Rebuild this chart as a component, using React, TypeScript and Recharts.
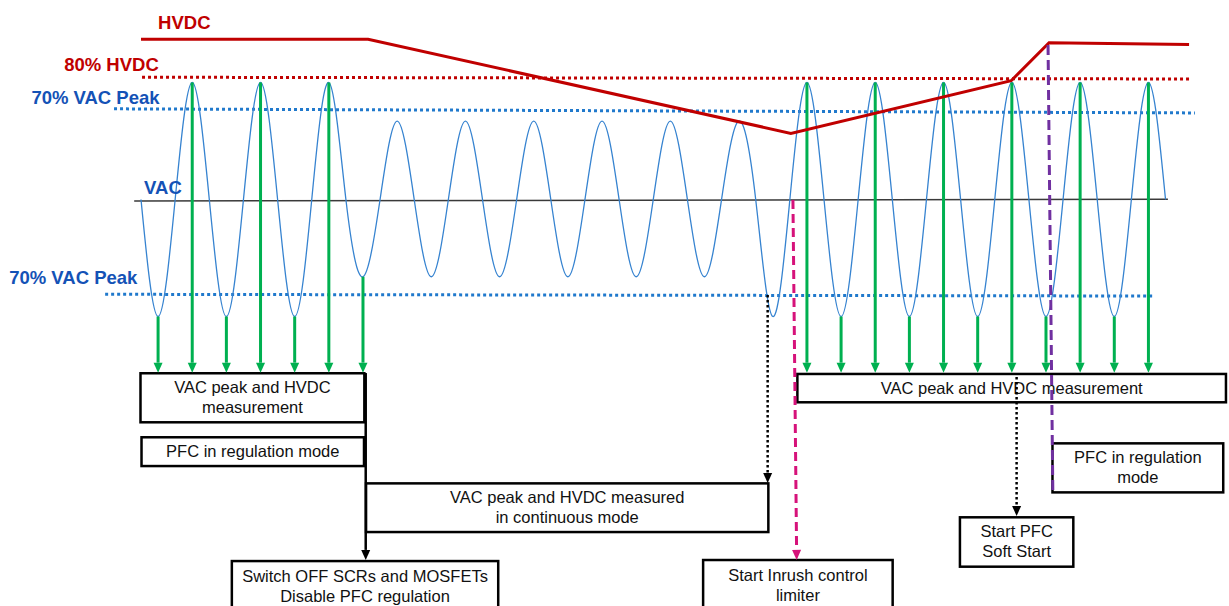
import React from 'react';
import { ComposedChart, Line, XAxis, YAxis, ReferenceLine, ReferenceArea, ReferenceDot } from 'recharts';

// x = time in ms (50 Hz mains, a zero crossing every 10 ms)
// y = voltage in % of the nominal VAC peak
const zeroCrossings = [
  0, 10, 20, 30, 40, 50, 60, 70, 80, 90, 100, 110, 120, 130, 140, 150,
  160, 170, 180, 190, 200, 210, 220, 230, 240, 250, 260, 270, 280, 290, 300,
];
const extremaTimes = [
  5, 15, 25, 35, 45, 55, 65, 75, 85, 95, 105, 115, 125, 135, 145,
  155, 165, 175, 185, 195, 205, 215, 225, 235, 245, 255, 265, 275, 285, 295,
];
const extremaValues = [
  -100, 100, -100, 100, -100, 100,
  -66, 67, -66, 67, -66, 67, -66, 67, -66, 67, -66, 67,
  -100, 100, -100, 100, -100, 100, -100, 100, -100, 100, -100, 100,
];
// half cycles whose peak is sampled (green arrows)
const measuredTimes = [5, 15, 25, 35, 45, 55, 65, 195, 205, 215, 225, 235, 245, 255, 265, 275, 285, 295];
const measureLevel = -148;

const hvdcTimes = [0, 66.5, 190.3, 254.8, 265.9, 306.9];
const hvdcValues = [137, 137, 56.5, 101.5, 134, 132.5];

const waveData = [
  ...zeroCrossings.map((t) => ({ t, vac: 0 })),
  ...extremaTimes.map((t, i) => ({ t, vac: extremaValues[i] })),
].sort((a, b) => a.t - b.t);

const hvdcData = hvdcTimes.map((t, i) => ({ t, hvdc: hvdcValues[i] }));

const FONT = 'Liberation Sans, Arial, sans-serif';
const RED = '#c00000';
const BLUE_TXT = '#1452b6';
const BLUE_DOT = '#2079cc';
const GREEN = '#00b050';

const notes = [
  { t1: -0.15, t2: 65.4, v1: -148.5, v2: -190.4, lines: ['VAC peak and HVDC', 'measurement'] },
  { t1: 0.15, t2: 65.3, v1: -203.2, v2: -227.8, lines: ['PFC in regulation mode'] },
  { t1: 65.9, t2: 183.7, v1: -242.6, v2: -284.2, lines: ['VAC peak and HVDC measured', 'in continuous mode'] },
  { t1: 26.6, t2: 104.6, v1: -309, v2: -351.7, lines: ['Switch OFF SCRs and MOSFETs', 'Disable PFC regulation'] },
  { t1: 164.6, t2: 220.1, v1: -308.1, v2: -351.7, lines: ['Start Inrush control', 'limiter'] },
  { t1: 192.2, t2: 317.7, v1: -149.1, v2: -173.3, lines: ['VAC peak and HVDC measurement'] },
  { t1: 266.9, t2: 316.9, v1: -208.4, v2: -250.3, lines: ['PFC in regulation', 'mode'] },
  { t1: 239.8, t2: 273.0, v1: -271.6, v2: -313.8, lines: ['Start PFC', 'Soft Start'] },
];

const links = [
  { from: [65.8, -148.3], to: [65.8, -308], color: '#000', width: 2.5, dash: undefined, head: true },
  { from: [183.5, -81.6], to: [183.5, -242.3], color: '#000', width: 2.5, dash: '2.5 2.5', head: true },
  { from: [190.9, -0.4], to: [192.0, -308], color: '#d6127a', width: 3, dash: '9 5', head: true },
  { from: [256.4, -151.7], to: [256.4, -270.5], color: '#000', width: 2.5, dash: '2.5 2.5', head: true },
  { from: [265.6, 132], to: [267.0, -249.1], color: '#7030a0', width: 3, dash: '10 5', head: false },
];

const levels = [
  { from: [0.3, 104.5], to: [306.9, 103], color: RED },
  { from: [-7.9, 77.5], to: [308.6, 74], color: BLUE_DOT },
  { from: [-10.5, -81], to: [296.9, -82.5], color: BLUE_DOT },
];

const labels = [
  { t: 5, v: 145.7, text: 'HVDC', color: RED },
  { t: -22.5, v: 109.8, text: '80% HVDC', color: RED },
  { t: -32.1, v: 81.6, text: '70% VAC Peak', color: BLUE_TXT },
  { t: 0.9, v: 4.7, text: 'VAC', color: BLUE_TXT },
  { t: -38.6, v: -72.6, text: '70% VAC Peak', color: BLUE_TXT },
];

function Arrow(p: any) {
  const { x1, y1, x2, y2, color, width, dash, head } = p;
  const dx = x2 - x1;
  const dy = y2 - y1;
  const len = Math.hypot(dx, dy) || 1;
  const ux = dx / len;
  const uy = dy / len;
  const hl = 10;
  const hw = 9;
  const bx = head ? x2 - ux * hl : x2;
  const by = head ? y2 - uy * hl : y2;
  return (
    <g>
      <line x1={x1} y1={y1} x2={bx} y2={by} stroke={color} strokeWidth={width} strokeDasharray={dash} />
      {head && (
        <polygon
          points={`${x2},${y2} ${bx - (uy * hw) / 2},${by + (ux * hw) / 2} ${bx + (uy * hw) / 2},${by - (ux * hw) / 2}`}
          fill={color}
        />
      )}
    </g>
  );
}

function NoteBox(p: any) {
  const { x, y, width, height, lines } = p;
  const cx = x + width / 2;
  const cy = y + height / 2;
  return (
    <g>
      <rect x={x} y={y} width={width} height={height} fill="none" stroke="#000" strokeWidth={2.5} />
      {lines.map((s: string, i: number) => (
        <text
          key={i}
          x={cx}
          y={cy + 5.5 + (i - (lines.length - 1) / 2) * 20}
          textAnchor="middle"
          fontSize={16.5}
          fontFamily={FONT}
          fill="#111"
        >
          {s}
        </text>
      ))}
    </g>
  );
}

export default function App() {
  return (
    <div style={{ position: 'absolute', left: 0, top: 0, width: 1229, height: 606, background: '#fff' }}>
      <ComposedChart width={1229} height={606} margin={{ top: 0, right: 0, bottom: 0, left: 0 }}>
        <XAxis type="number" dataKey="t" domain={[-41.29, 318.59]} allowDataOverflow hide />
        <YAxis type="number" domain={[-347.4, 170.5]} allowDataOverflow hide />

        {levels.map((l, i) => (
          <ReferenceLine
            key={`lvl${i}`}
            ifOverflow="visible"
            segment={[{ x: l.from[0], y: l.from[1] }, { x: l.to[0], y: l.to[1] }]}
            stroke={l.color}
            strokeWidth={3}
            strokeDasharray="3 3"
          />
        ))}
        <ReferenceLine
          ifOverflow="visible"
          segment={[{ x: -2, y: -1.3 }, { x: 300.7, y: 0.2 }]}
          stroke="#3a3a3a"
          strokeWidth={1.5}
        />

        <Line
          data={waveData}
          dataKey="vac"
          type="natural"
          stroke="#3683d0"
          strokeWidth={1.3}
          dot={false}
          activeDot={false}
          isAnimationActive={false}
        />

        {measuredTimes.map((t) => {
          const v = extremaValues[extremaTimes.indexOf(t)];
          return (
            <ReferenceLine
              key={`m${t}`}
              ifOverflow="visible"
              segment={[{ x: t, y: v }, { x: t, y: measureLevel }]}
              shape={(p: any) => <Arrow {...p} color={GREEN} width={3} head />}
            />
          );
        })}

        <Line
          data={hvdcData}
          dataKey="hvdc"
          type="linear"
          stroke={RED}
          strokeWidth={3}
          dot={false}
          activeDot={false}
          isAnimationActive={false}
        />

        {notes.map((n, i) => (
          <ReferenceArea
            key={`n${i}`}
            ifOverflow="visible"
            x1={n.t1}
            x2={n.t2}
            y1={n.v1}
            y2={n.v2}
            shape={(p: any) => <NoteBox {...p} lines={n.lines} />}
          />
        ))}

        {links.map((l, i) => (
          <ReferenceLine
            key={`lk${i}`}
            ifOverflow="visible"
            segment={[{ x: l.from[0], y: l.from[1] }, { x: l.to[0], y: l.to[1] }]}
            shape={(p: any) => <Arrow {...p} color={l.color} width={l.width} dash={l.dash} head={l.head} />}
          />
        ))}

        {labels.map((l, i) => (
          <ReferenceDot
            key={`lb${i}`}
            ifOverflow="visible"
            x={l.t}
            y={l.v}
            r={1}
            shape={(p: any) => (
              <text x={p.cx} y={p.cy} fontSize={18.5} fontWeight="bold" fontFamily={FONT} fill={l.color}>
                {l.text}
              </text>
            )}
          />
        ))}
      </ComposedChart>
    </div>
  );
}
